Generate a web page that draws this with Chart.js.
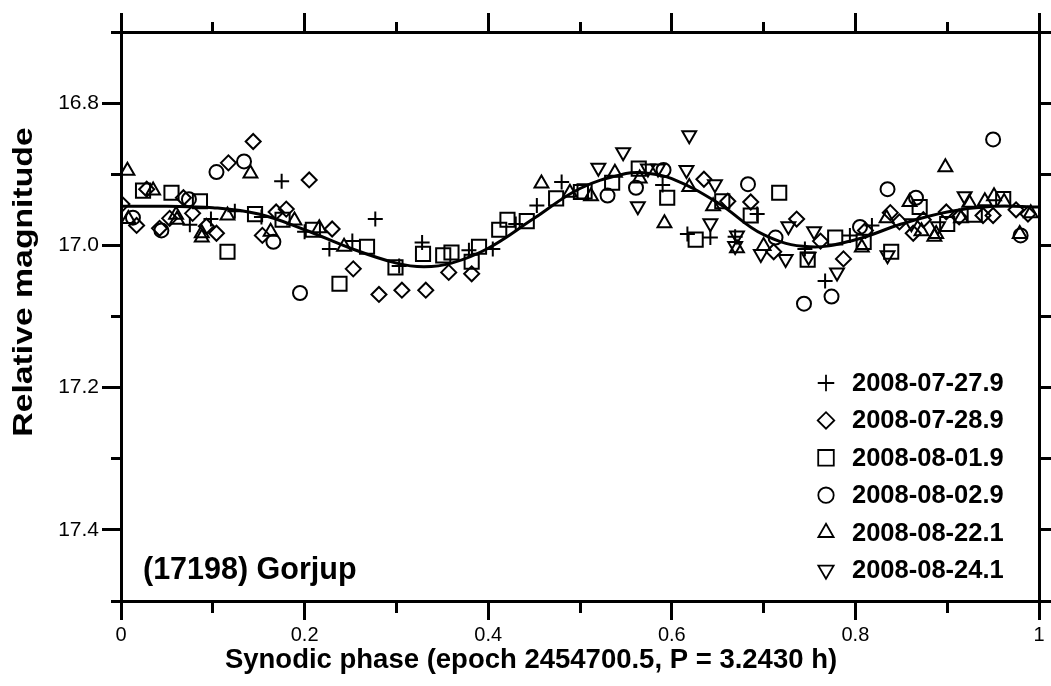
<!DOCTYPE html>
<html>
<head>
<meta charset="utf-8">
<script src="https://cdn.jsdelivr.net/npm/chart.js@4/dist/chart.umd.min.js"></script>
<style>
  html, body { margin: 0; padding: 0; background: #fff; }
  #wrap { width: 1051px; height: 686px; }
</style>
</head>
<body>
<div id="wrap"><canvas id="c" width="1051" height="686"></canvas></div>
<script>
// tick positions and labels
const xTicks = [0, 0.1, 0.2, 0.3, 0.4, 0.5, 0.6, 0.7, 0.8, 0.9, 1];
const xTickLabels = ['0', '', '0.2', '', '0.4', '', '0.6', '', '0.8', '', '1'];
const yTicks = [16.7, 16.8, 16.9, 17.0, 17.1, 17.2, 17.3, 17.4, 17.5];
const yTickLabels = ['', '16.8', '', '17.0', '', '17.2', '', '17.4', ''];

// series labels, one per night
const nights = ['2008-07-27.9', '2008-07-28.9', '2008-08-01.9', '2008-08-02.9', '2008-08-22.1', '2008-08-24.1'];

// [phase, relative magnitude]
const night1 = [[0.075,16.971],[0.098,16.963],[0.124,16.952],[0.153,16.960],[0.175,16.910],[0.200,16.981],
  [0.227,17.005],[0.252,16.994],[0.277,16.963],[0.303,17.029],[0.328,16.996],[0.379,17.007],[0.405,17.005],
  [0.430,16.970],[0.453,16.944],[0.480,16.911],[0.590,16.915],[0.617,16.984],[0.642,16.989],[0.669,16.988],
  [0.693,16.956],[0.745,17.005],[0.767,17.050],[0.794,16.986],[0.818,16.972]];
const night2 = [[0.001,16.942],[0.017,16.972],[0.028,16.921],[0.042,16.976],[0.053,16.962],[0.068,16.933],
  [0.078,16.955],[0.093,16.973],[0.104,16.983],[0.117,16.884],[0.144,16.854],[0.154,16.986],[0.169,16.953],
  [0.180,16.949],[0.205,16.908],[0.230,16.977],[0.253,17.033],[0.281,17.069],[0.306,17.063],[0.332,17.063],
  [0.357,17.038],[0.382,17.040],[0.635,16.907],[0.661,16.938],[0.686,16.939],[0.711,17.009],[0.736,16.963],
  [0.762,16.994],[0.787,17.019],[0.811,16.979],[0.838,16.954],[0.848,16.967],[0.863,16.983],[0.874,16.964],
  [0.899,16.953],[0.913,16.960],[0.939,16.958],[0.950,16.958],[0.975,16.950],[0.988,16.956]];
const night3 = [[0.024,16.923],[0.055,16.926],[0.086,16.938],[0.116,17.009],[0.146,16.956],[0.176,16.964],
  [0.209,16.978],[0.238,17.054],[0.268,17.002],[0.299,17.031],[0.329,17.012],[0.351,17.014],[0.360,17.010],
  [0.382,17.023],[0.390,17.002],[0.412,16.978],[0.421,16.964],[0.442,16.966],[0.474,16.934],[0.501,16.925],
  [0.505,16.924],[0.535,16.912],[0.564,16.892],[0.595,16.933],[0.626,16.992],[0.655,16.938],[0.686,16.958],
  [0.717,16.926],[0.748,17.020],[0.778,16.989],[0.809,16.995],[0.839,17.009],[0.870,16.946],[0.900,16.970],
  [0.930,16.957],[0.961,16.935]];
const night4 = [[0.013,16.961],[0.044,16.979],[0.074,16.935],[0.104,16.897],[0.134,16.882],[0.166,16.995],
  [0.195,17.067],[0.530,16.930],[0.561,16.919],[0.591,16.894],[0.683,16.914],[0.713,16.989],[0.744,17.082],
  [0.774,17.072],[0.805,16.974],[0.835,16.921],[0.866,16.933],[0.950,16.851],[0.980,16.986]];
const night5 = [[0.007,16.895],[0.008,16.963],[0.035,16.923],[0.060,16.957],[0.061,16.964],[0.088,16.983],
  [0.088,16.989],[0.116,16.958],[0.141,16.899],[0.163,16.981],[0.189,16.965],[0.216,16.976],[0.243,17.002],
  [0.458,16.913],[0.489,16.926],[0.512,16.931],[0.538,16.898],[0.565,16.906],[0.592,16.969],[0.619,16.918],
  [0.645,16.945],[0.671,17.004],[0.700,17.001],[0.807,17.003],[0.834,16.962],[0.859,16.939],[0.872,16.980],
  [0.886,16.988],[0.888,16.984],[0.898,16.890],[0.915,16.962],[0.924,16.940],[0.941,16.938],[0.951,16.931],
  [0.962,16.939],[0.979,16.984],[0.991,16.955]];
const night6 = [[0.520,16.891],[0.547,16.869],[0.563,16.945],[0.574,16.892],[0.585,16.892],[0.616,16.894],
  [0.619,16.845],[0.642,16.969],[0.647,16.914],[0.669,17.001],[0.671,16.986],[0.697,17.012],[0.724,17.019],
  [0.727,16.973],[0.749,17.016],[0.755,16.980],[0.780,17.038],[0.835,17.014],[0.861,16.969],[0.890,16.973],
  [0.919,16.931]];

// fitted lightcurve
const fitPhase = [0, 0.05, 0.1, 0.15, 0.2, 0.25, 0.3, 0.33, 0.36, 0.4, 0.45, 0.5, 0.55, 0.57, 0.6, 0.65, 0.7, 0.75, 0.8, 0.85, 0.9, 0.95, 1];
const fitMag = [16.945, 16.945, 16.947, 16.956, 16.978, 17.004, 17.025, 17.030, 17.025, 17.004, 16.962, 16.920, 16.899, 16.898, 16.906, 16.940, 16.985, 17.002, 16.992, 16.970, 16.953, 16.945, 16.946];

const FONT = '"Liberation Sans", Arial, Helvetica, sans-serif';
const styles = [
  { pointStyle: 'cross', radius: 7.5, rotation: 0 },
  { pointStyle: 'rectRot', radius: 7.5, rotation: 0 },
  { pointStyle: 'rect', radius: 10, rotation: 0 },
  { pointStyle: 'circle', radius: 7, rotation: 0 },
  { pointStyle: 'triangle', radius: 8, rotation: 0 },
  { pointStyle: 'triangle', radius: 8, rotation: 180 },
];
const seriesData = [night1, night2, night3, night4, night5, night6];

const datasets = seriesData.map((arr, i) => ({
  type: 'scatter',
  label: nights[i],
  data: arr.map(p => ({ x: p[0], y: p[1] })),
  pointStyle: styles[i].pointStyle,
  pointRadius: styles[i].radius,
  pointRotation: styles[i].rotation,
  pointBorderWidth: 2,
  pointBorderColor: '#000',
  pointBackgroundColor: 'rgba(0,0,0,0)',
  pointHoverRadius: styles[i].radius,
  order: 2,
}));
datasets.push({
  type: 'line',
  label: 'fit',
  data: fitPhase.map((x, i) => ({ x: x, y: fitMag[i] })),
  borderColor: '#000',
  borderWidth: 3,
  pointRadius: 0,
  tension: 0.4,
  fill: false,
  order: 1,
});

const isMinorX = (ctx) => xTickLabels[ctx.index] === '';
const isMinorY = (ctx) => yTickLabels[ctx.index] === '';

function gridOpts(isMinor, gapFirst) {
  return {
    drawOnChartArea: false,
    tickLength: 19,
    lineWidth: 3,
    tickWidth: 3,
    color: '#000',
    tickColor: '#000',
    // minor ticks are cut short with a dash pattern
    tickBorderDash: (ctx) => isMinor(ctx) ? (gapFirst ? [10, 9] : [10, 30]) : [],
    tickBorderDashOffset: (ctx) => isMinor(ctx) && gapFirst ? 10 : 0,
  };
}

const textPlugin = {
  id: 'texts',
  afterDraw(chart) {
    const ctx = chart.ctx;
    const area = chart.chartArea;
    ctx.save();
    ctx.fillStyle = '#000';

    // axis titles
    ctx.font = 'bold 27.5px ' + FONT;
    ctx.textAlign = 'center';
    ctx.textBaseline = 'middle';
    ctx.fillText('Synodic phase (epoch 2454700.5, P = 3.2430 h)', 531, 660);
    ctx.save();
    ctx.translate(25, 282);
    ctx.rotate(-Math.PI / 2);
    ctx.scale(1.25, 1);
    ctx.font = 'bold 27px ' + FONT;
    ctx.fillText('Relative magnitude', 0, 0);
    ctx.restore();

    // object name
    ctx.font = 'bold 30.5px ' + FONT;
    ctx.textAlign = 'left';
    ctx.fillText('(17198) Gorjup', area.left + 22, 571);

    // legend
    ctx.font = 'bold 25.5px ' + FONT;
    nights.forEach((name, i) => {
      const y = 383 + i * 37.4;
      ctx.save();
      ctx.strokeStyle = '#000';
      ctx.fillStyle = 'rgba(0,0,0,0)';
      ctx.lineWidth = 1.8;
      Chart.helpers.drawPoint(ctx, {
        pointStyle: styles[i].pointStyle,
        rotation: styles[i].rotation,
        radius: styles[i].radius * 1.1,
        borderWidth: 1.8,
      }, 826, y);
      ctx.restore();
      ctx.fillStyle = '#000';
      ctx.fillText(name, 852, y + 1);
    });
    ctx.restore();
  }
};

new Chart(document.getElementById('c'), {
  type: 'scatter',
  data: { datasets: datasets },
  options: {
    responsive: false,
    animation: false,
    devicePixelRatio: 1,
    layout: { padding: { left: 0, top: 32, right: 9, bottom: 0 } },
    plugins: { legend: { display: false }, tooltip: { enabled: false } },
    scales: {
      x: {
        type: 'linear', position: 'bottom', min: 0, max: 1,
        afterBuildTicks: (s) => { s.ticks = xTicks.map(v => ({ value: v })); },
        afterFit: (s) => { s.height = 85; },
        ticks: {
          autoSkip: false, maxRotation: 0, padding: 3, color: '#000',
          font: { family: FONT, size: 20 },
          callback: (v, i) => xTickLabels[i],
        },
        grid: gridOpts(isMinorX, false),
        border: { display: true, width: 3, color: '#000' },
      },
      x2: {
        type: 'linear', position: 'top', min: 0, max: 1,
        afterBuildTicks: (s) => { s.ticks = xTicks.map(v => ({ value: v })); },
        afterFit: (s) => { s.height = 0; },
        ticks: { display: false },
        grid: gridOpts(isMinorX, true),
        border: { display: true, width: 3, color: '#000' },
      },
      y: {
        type: 'linear', position: 'left', min: 16.7, max: 17.5, reverse: true,
        afterBuildTicks: (s) => { s.ticks = yTicks.map(v => ({ value: v })); },
        afterFit: (s) => { s.width = 121; },
        ticks: {
          autoSkip: false, padding: 3, color: '#000',
          font: { family: FONT, size: 21 },
          callback: (v, i) => yTickLabels[i],
        },
        grid: gridOpts(isMinorY, true),
        border: { display: true, width: 3, color: '#000' },
      },
      y2: {
        type: 'linear', position: 'right', min: 16.7, max: 17.5, reverse: true,
        afterBuildTicks: (s) => { s.ticks = yTicks.map(v => ({ value: v })); },
        afterFit: (s) => { s.width = 0; },
        ticks: { display: false },
        grid: gridOpts(isMinorY, false),
        border: { display: true, width: 3, color: '#000' },
      },
    },
  },
  plugins: [textPlugin],
});
</script>
</body>
</html>
